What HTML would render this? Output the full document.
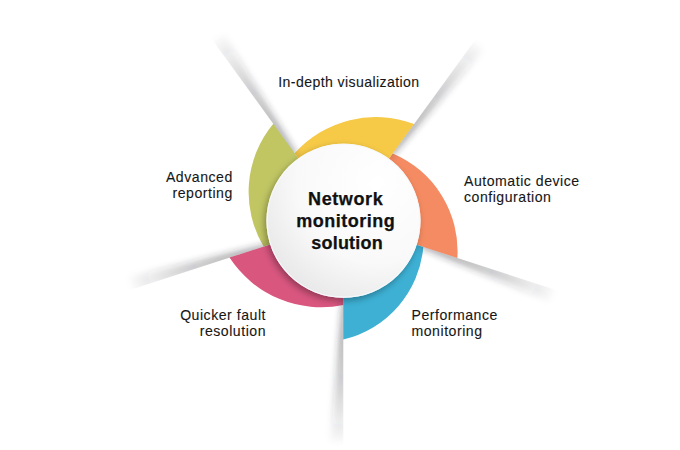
<!DOCTYPE html>
<html><head><meta charset="utf-8"><style>
html,body{margin:0;padding:0;background:#fff;}
#wrap{position:relative;width:680px;height:450px;overflow:hidden;font-family:"Liberation Sans",sans-serif;color:#1a1a1a;}
#wrap svg{position:absolute;left:0;top:0;}
.t{position:absolute;font-size:14.1px;letter-spacing:0.52px;line-height:16px;white-space:nowrap;color:#161616;-webkit-text-stroke:0.1px #161616;}
.c{position:absolute;font-weight:bold;font-size:18px;-webkit-text-stroke:0.25px #111;letter-spacing:0.7px;line-height:22.2px;text-align:center;white-space:nowrap;color:#111;}
</style></head><body><div id="wrap">
<svg width="680" height="450" viewBox="0 0 680 450">
<defs>
<linearGradient id="sl" gradientUnits="userSpaceOnUse" x1="0" y1="-80" x2="0" y2="-228">
  <stop offset="0" stop-color="#2a2b30" stop-opacity="0.40"/>
  <stop offset="0.25" stop-color="#2a2b30" stop-opacity="0.36"/>
  <stop offset="0.5" stop-color="#2a2b30" stop-opacity="0.25"/>
  <stop offset="0.78" stop-color="#2a2b30" stop-opacity="0.11"/>
  <stop offset="1" stop-color="#2a2b30" stop-opacity="0"/>
</linearGradient>
<filter id="sb" x="-100%" y="-10%" width="300%" height="120%"><feGaussianBlur stdDeviation="3.3"/></filter>
<clipPath id="half"><rect x="0" y="-260" width="60" height="200"/></clipPath>
<radialGradient id="cg" cx="0.72" cy="0.25" r="0.95">
  <stop offset="0" stop-color="#ffffff"/>
  <stop offset="0.55" stop-color="#f9f9f9"/>
  <stop offset="1" stop-color="#e2e2e4"/>
</radialGradient>
<filter id="cs" x="-30%" y="-30%" width="160%" height="160%">
  <feGaussianBlur in="SourceAlpha" stdDeviation="3.5"/>
  <feOffset dx="-2.5" dy="2.5" result="b"/>
  <feComponentTransfer><feFuncA type="linear" slope="0.34"/></feComponentTransfer>
  <feMerge><feMergeNode/><feMergeNode in="SourceGraphic"/></feMerge>
</filter>
</defs>
<rect width="680" height="450" fill="#fff"/>
<path d="M343.66,220.92 L392.68,153.45 A106.2,106.2 0 0 1 457.39,258.01 L343.44,220.99 Z" fill="#F58B62"/>
<path d="M343.44,220.99 L423.32,246.94 A104.3,104.3 0 0 1 343.30,339.52 L343.30,220.80 Z" fill="#3DB0D4"/>
<path d="M343.30,220.80 L343.30,305.09 A109.8,109.8 0 0 1 229.52,257.62 L343.44,220.61 Z" fill="#D9567F"/>
<path d="M343.44,220.61 L263.63,246.54 A106.5,106.5 0 0 1 273.29,123.82 L343.66,220.68 Z" fill="#C1C663"/>
<path d="M343.66,220.68 L294.67,153.25 A108.9,108.9 0 0 1 414.11,123.96 L343.66,220.92 Z" fill="#F6C947"/>
<g transform="translate(343.5,220.8) rotate(36.0) translate(0.2,0)" clip-path="url(#half)"><path d="M-4,-81.0 L-4,-221.0 L13.0,-221.0 L1.5,-81.0 Z" fill="url(#sl)" filter="url(#sb)"/></g>
<g transform="translate(343.5,220.8) rotate(108.0) translate(0.2,0)" clip-path="url(#half)"><path d="M-4,-81.0 L-4,-221.0 L13.0,-221.0 L1.5,-81.0 Z" fill="url(#sl)" filter="url(#sb)"/></g>
<g transform="translate(343.5,220.8) rotate(180.0) translate(0.2,0)" clip-path="url(#half)"><path d="M-4,-81.0 L-4,-221.0 L13.0,-221.0 L1.5,-81.0 Z" fill="url(#sl)" filter="url(#sb)"/></g>
<g transform="translate(343.5,220.8) rotate(252.0) translate(0.2,0)" clip-path="url(#half)"><path d="M-4,-81.0 L-4,-221.0 L13.0,-221.0 L1.5,-81.0 Z" fill="url(#sl)" filter="url(#sb)"/></g>
<g transform="translate(343.5,220.8) rotate(324.0) translate(0.2,0)" clip-path="url(#half)"><path d="M-4,-81.0 L-4,-221.0 L13.0,-221.0 L1.5,-81.0 Z" fill="url(#sl)" filter="url(#sb)"/></g>
<circle cx="343.5" cy="220.8" r="77.0" fill="url(#cg)" filter="url(#cs)"/>
<circle cx="343.5" cy="220.8" r="76.4" fill="none" stroke="#f6f9fb" stroke-width="1.2"/>
</svg>
<div class="t" style="left:278.3px;top:74.2px;letter-spacing:0.4px;">In-depth visualization</div>
<div class="t" style="left:464px;top:173.3px;">Automatic device<br>configuration</div>
<div class="t" style="left:411.5px;top:306.9px;">Performance<br>monitoring</div>
<div class="t" style="right:414px;top:306.9px;text-align:right;">Quicker fault<br>resolution</div>
<div class="t" style="right:447.2px;top:168.6px;text-align:right;">Advanced<br>reporting</div>
<div class="c" style="left:245.5px;width:200px;top:187.5px;"><div style="letter-spacing:0.6px;padding-left:0.3px">Network</div><div style="letter-spacing:0.5px;padding-left:0.5px">monitoring</div><div style="letter-spacing:0.2px;padding-left:3.2px">solution</div></div>
</div></body></html>
